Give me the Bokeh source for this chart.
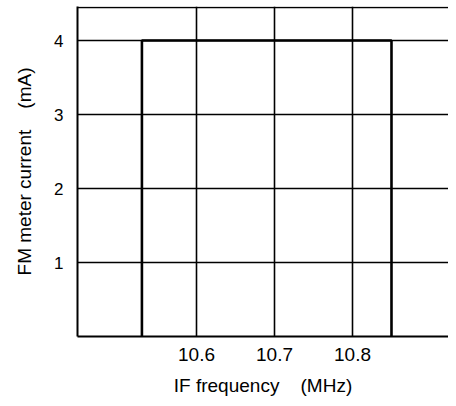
from bokeh.plotting import figure
from bokeh.models import Range1d, FixedTicker
from bokeh.embed import file_html
from bokeh.resources import INLINE

# data
freq = [10.53, 10.53, 10.85, 10.85]
current = [0.0, 4.0, 4.0, 0.0]
x_ticks = [10.6, 10.7, 10.8]
y_ticks = [1, 2, 3, 4]

NB = "\u00a0"
p = figure(width=448, height=398, output_backend="svg", toolbar_location=None,
           x_range=Range1d(10.4474, 10.9231), y_range=Range1d(0, 4.46),
           min_border_left=77, min_border_right=0, min_border_top=6, min_border_bottom=62)
p.outline_line_color = None
p.background_fill_color = "white"
p.border_fill_color = "white"

FONT = "Liberation Sans"
for ax in (p.xaxis[0], p.yaxis[0]):
    ax.major_tick_line_color = None
    ax.minor_tick_line_color = None
    ax.axis_line_color = "black"
    ax.axis_line_width = 2
    ax.major_label_text_font = FONT
    ax.major_label_text_color = "black"
    ax.axis_label_text_font = FONT
    ax.axis_label_text_font_size = "19px"
    ax.axis_label_text_font_style = "normal"
    ax.axis_label_text_color = "black"

p.xaxis.major_label_text_font_size = "19px"
p.yaxis.major_label_text_font_size = "17px"
p.xaxis.ticker = FixedTicker(ticks=x_ticks)
p.yaxis.ticker = FixedTicker(ticks=y_ticks)
p.xaxis.major_label_standoff = 5
p.yaxis.major_label_standoff = 8
p.xaxis.axis_label = "IF frequency" + NB * 4 + "(MHz)"
p.yaxis.axis_label = "FM meter current" + NB * 4 + "(mA)"
p.xaxis.axis_label_standoff = 11
p.yaxis.axis_label_standoff = 16

p.xgrid.ticker = FixedTicker(ticks=x_ticks)
p.ygrid.ticker = FixedTicker(ticks=y_ticks + [4.452])
for g in (p.xgrid[0], p.ygrid[0]):
    g.grid_line_color = "black"
    g.grid_line_width = 1.6
    g.grid_line_alpha = 1.0

p.line(freq, current, line_color="black", line_width=2.6)

open("out.html", "w").write(file_html(p, INLINE))
